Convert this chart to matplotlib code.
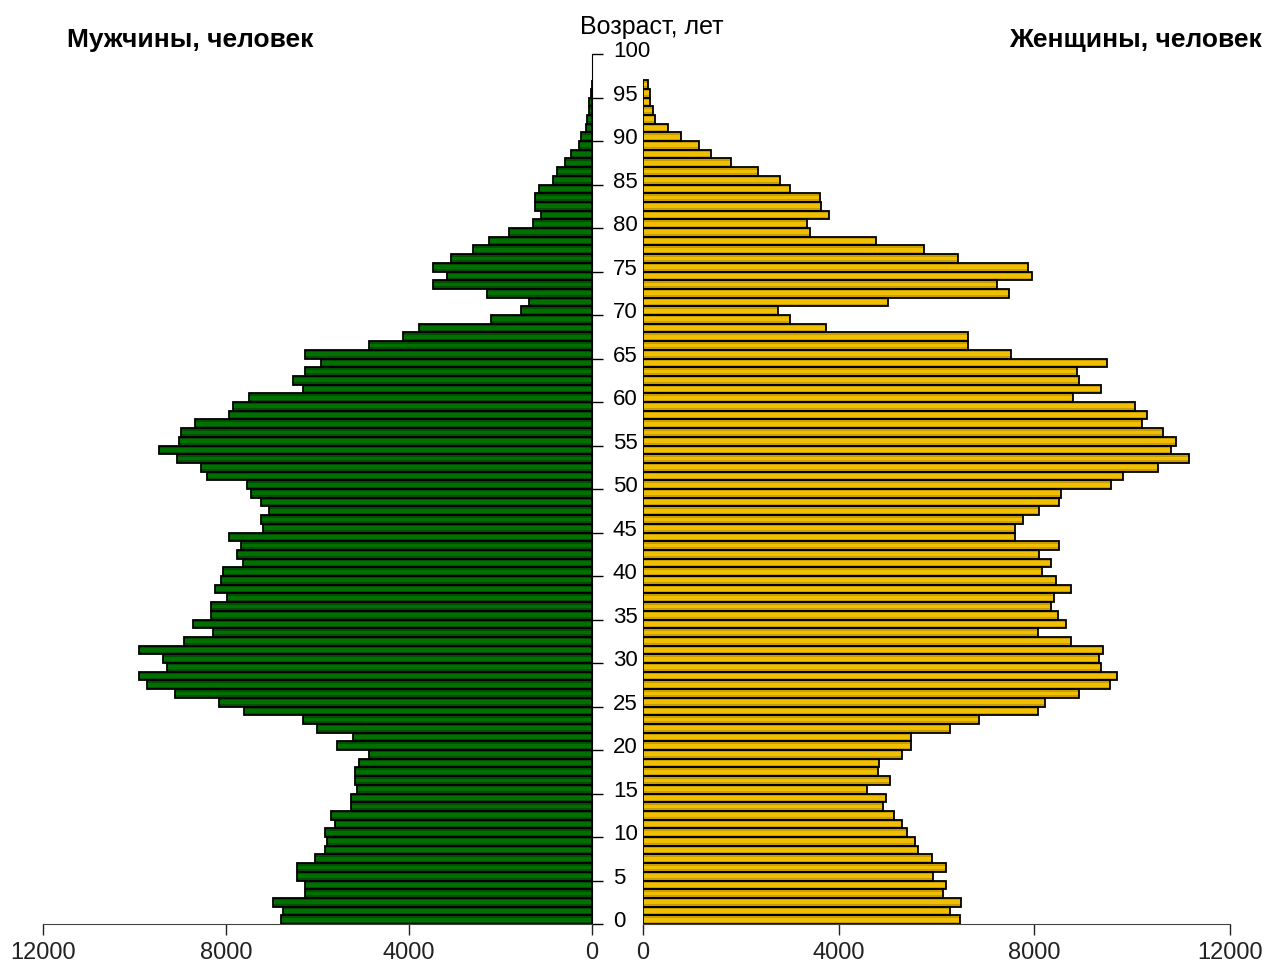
import matplotlib
matplotlib.use('Agg')
import matplotlib.pyplot as plt
from matplotlib.transforms import ScaledTranslation

plt.rcParams['font.family'] = ['Liberation Sans', 'DejaVu Sans']

ages = list(range(97))

# men, persons by single year of age (0..96)
men = [6805, 6762, 6966, 6274, 6274, 6456, 6456, 6055, 5837, 5800,
       5837, 5618, 5706, 5268, 5268, 5144, 5173, 5173, 5086, 4882,
       5581, 5232, 6018, 6325, 7601, 8160, 9122, 9735, 9910, 9297,
       9385, 9910, 8911, 8292, 8729, 8329, 8329, 7986, 8234, 8117,
       8073, 7623, 7768, 7673, 7935, 7199, 7236, 7068, 7236, 7454,
       7549, 8423, 8547, 9079, 9466, 9035, 8991, 8678, 7935, 7855,
       7505, 6325, 6543, 6274, 5932, 6274, 4875, 4139, 3782, 2208,
       1552, 1377, 2288, 3469, 3177, 3483, 3082, 2594, 2252, 1808,
       1283, 1115, 1246, 1246, 1152, 845, 758, 590, 459, 277,
       240, 138, 102, 66, 58, 20, 10]

# women, persons by single year of age (0..96)
women = [6474, 6266, 6511, 6140, 6192, 5932, 6192, 5909, 5612, 5567,
         5404, 5285, 5121, 4913, 4958, 4579, 5040, 4794, 4831, 5285,
         5486, 5486, 6266, 6876, 8065, 8221, 8920, 9537, 9700, 9373,
         9328, 9410, 8756, 8065, 8645, 8474, 8347, 8392, 8756, 8436,
         8147, 8347, 8095, 8511, 7612, 7612, 7775, 8095, 8511, 8555,
         9574, 9819, 10518, 11172, 10800, 10890, 10637, 10191, 10302, 10064,
         8793, 9373, 8920, 8875, 9485, 7530, 6637, 6637, 3739, 2995,
         2750, 5002, 7491, 7246, 7954, 7864, 6437, 5746, 4757, 3411,
         3361, 3812, 3649, 3612, 2995, 2795, 2341, 1807, 1398, 1153,
         787, 505, 253, 209, 133, 133, 96]

x_ticks = [0, 4000, 8000, 12000]
age_ticks = list(range(0, 101, 5))

fig = plt.figure(figsize=(12.66, 9.70), dpi=100)
H = 970.0
W = 1266.0
bottom = (H - 925) / H
height = 870 / H
ax_m = fig.add_axes([43 / W, bottom, 549 / W, height])
ax_w = fig.add_axes([643 / W, bottom, 587 / W, height])


def shaded_bars(ax, values, dark, light):
    # darker bar, lighter band in the middle, then black outline on top
    ax.barh(ages, values, height=1, align='edge', color=dark, linewidth=0)
    ax.barh([a + 0.28 for a in ages], values, height=0.44, align='edge',
            color=light, linewidth=0)
    ax.barh(ages, values, height=1, align='edge', fill=False,
            edgecolor='black', linewidth=1.3)


shaded_bars(ax_m, men, '#004f00', '#007000')
shaded_bars(ax_w, women, '#c99d00', '#f0c000')

for ax in (ax_m, ax_w):
    ax.patch.set_visible(False)
    ax.set_ylim(0, 100)
    ax.set_xlim(0, 12000)
    ax.set_xticks(x_ticks)
    ax.set_xticklabels([str(t) for t in x_ticks], fontsize=17)
    ax.tick_params(axis='x', direction='out', length=8, width=1, pad=4,
                   colors='#222222')
    ax.spines['top'].set_visible(False)
    ax.spines['bottom'].set_color('#444444')

ax_m.invert_xaxis()
ax_m.spines['left'].set_visible(False)
ax_m.yaxis.tick_right()
ax_m.set_yticks(age_ticks)
ax_m.set_yticklabels([str(a) for a in age_ticks], fontsize=16)
ax_m.tick_params(axis='y', direction='out', length=8, width=1, pad=7)
for lab in ax_m.get_yticklabels():
    lab.set_transform(lab.get_transform() +
                      ScaledTranslation(0, 4 / 72, fig.dpi_scale_trans))

ax_w.spines['left'].set_visible(False)
ax_w.spines['right'].set_visible(False)
ax_w.set_yticks([])

fig.text(67 / W, 1 - 40 / H, 'Мужчины, человек', fontsize=19,
         fontweight='bold', ha='left', va='center')
fig.text(1262 / W, 1 - 40 / H, 'Женщины, человек', fontsize=19,
         fontweight='bold', ha='right', va='center')
fig.text(652 / W, 1 - 27 / H, 'Возраст, лет', fontsize=18,
         ha='center', va='center')

fig.savefig('out.png', dpi=100)
